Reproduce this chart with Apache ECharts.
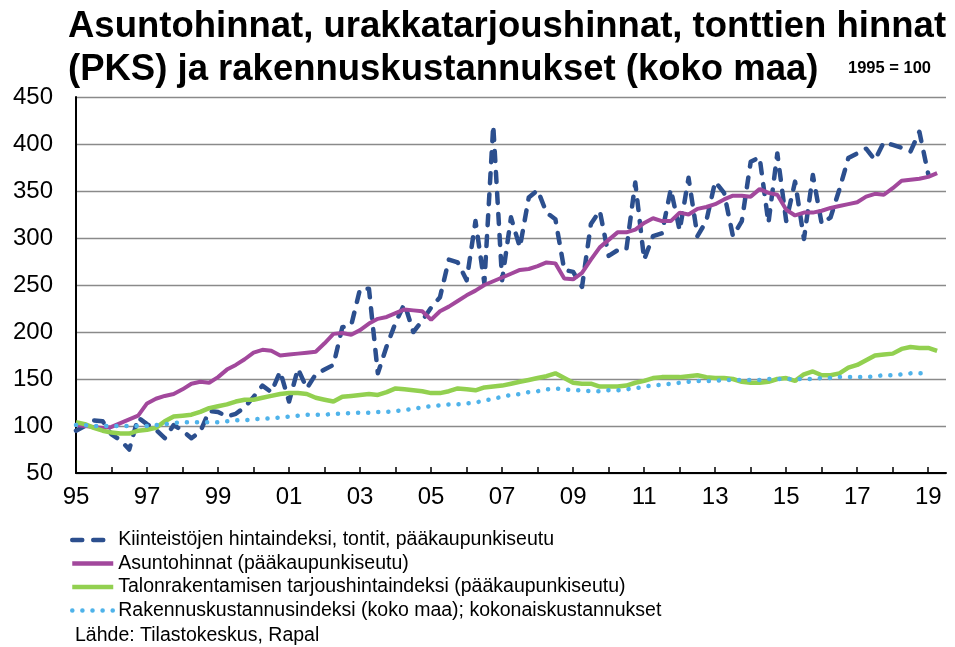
<!DOCTYPE html>
<html>
<head>
<meta charset="utf-8">
<script src="https://cdn.jsdelivr.net/npm/echarts@6/dist/echarts.min.js"></script>
<style>
  html, body { margin: 0; padding: 0; background: #fff; }
  #myChart { width: 955px; height: 647px; }
</style>
</head>
<body>
<div id="myChart"></div>
<script>
var FONT = '"Liberation Sans", Arial, sans-serif';

// x-axis: quarters 1995Q1 .. 2019Q3, labels every second year
var yearLabels = ['95', '97', '99', '01', '03', '05', '07', '09', '11', '13', '15', '17', '19'];
var quarters = [];
for (var y = 1995; y <= 2019; y++) {
    for (var q = 1; q <= 4; q++) quarters.push(y + 'Q' + q);
}
quarters = quarters.slice(0, 99);

var seriesNames = [
    'Kiinteistöjen hintaindeksi, tontit, pääkaupunkiseutu',
    'Asuntohinnat (pääkaupunkiseutu)',
    'Talonrakentamisen tarjoushintaindeksi (pääkaupunkiseutu)',
    'Rakennuskustannusindeksi (koko maa); kokonaiskustannukset'
];

// 1995 = 100, quarterly
var tontit = [
    95, 100, 106, 105, 91, 85, 75, 109, 102, 96,
    87, 101, 95, 87, 94, 116, 115, 110, 113, 120,
    131, 143, 136, 158, 126, 161, 140, 155, 160, 165,
    205, 207, 246, 246, 156, 185, 210, 230, 200, 212,
    226, 237, 277, 274, 255, 318, 252, 420, 255, 322,
    290, 343, 351, 327, 320, 266, 264, 248, 315, 329,
    281, 287, 288, 359, 277, 302, 305, 352, 308, 364,
    302, 318, 360, 348, 302, 318, 381, 386, 316, 390,
    318, 360, 299, 367, 315, 322, 352, 385, 390, 395,
    383, 402, 399, 396, 392, 413, 368
];
var asunnot = [
    101, 100, 99, 98, 99, 103, 107, 111, 124, 129,
    132, 134, 139, 145, 147, 146, 152, 160, 165, 171,
    178, 181, 180, 175, 176, 177, 178, 179, 188, 198,
    199, 197, 202, 209, 214, 216, 220, 224, 223, 222,
    213, 222, 227, 233, 239, 244, 250, 254, 258, 262,
    266, 267, 270, 274, 273, 257, 256, 263, 277, 290,
    298, 306, 306, 309, 316, 321, 318, 318, 327, 325,
    331, 333, 336, 341, 345, 345, 344, 352, 348, 346,
    330, 324, 327, 327, 329, 332, 334, 336, 338, 344,
    347, 346, 353, 361, 362, 363, 365, 369
];
var tarjous = [
    104, 102, 98, 95, 93, 92, 92, 95, 96, 98,
    105, 110, 111, 112, 115, 119, 121, 123, 126, 128,
    128, 130, 132, 134, 135, 135, 134, 130, 128, 126,
    131, 132, 133, 134, 133, 136, 140, 139, 138, 137,
    135, 135, 137, 140, 139, 138, 141, 142, 143, 145,
    147, 149, 151, 153, 156, 151, 146, 145, 145, 142,
    142, 142, 143, 146, 148, 151, 152, 152, 152, 153,
    154, 152, 151, 151, 150, 147, 146, 146, 147, 150,
    151, 148, 155, 158, 154, 154, 156, 162, 165, 170,
    175, 176, 177, 182, 184, 183, 183, 180
];
var rakennus = [
    101, 101, 100, 100, 100, 100, 100, 100, 100, 101,
    102, 103, 104, 104, 104, 104, 104, 105, 106, 106,
    107, 108, 108, 109, 110, 111, 112, 112, 112, 113,
    113, 114, 114, 114, 115, 115, 116, 117, 118, 120,
    121, 122, 123, 123, 124, 125, 127, 129, 131, 133,
    134, 136, 137, 139, 140, 139, 138, 138, 137, 137,
    138, 138, 139, 140, 142, 143, 144, 145, 146, 147,
    148, 148, 148, 149, 149, 149, 149, 149, 150, 150,
    150, 150, 150, 150, 151, 151, 152, 152, 152, 152,
    153, 154, 154, 155, 156, 156, 156
];

var option = {
    animation: false,
    textStyle: { fontFamily: FONT },
    title: [{
        text: 'Asuntohinnat, urakkatarjoushinnat, tonttien hinnat\n(PKS) ja rakennuskustannukset (koko maa)',
        left: 63,
        top: 0,
        textStyle: { fontFamily: FONT, fontSize: 36.5, fontWeight: 'bold', lineHeight: 43, color: '#000' }
    }, {
        text: '1995 = 100',
        left: 843,
        top: 55,
        textStyle: { fontFamily: FONT, fontSize: 16.5, fontWeight: 'bold', color: '#000' }
    }, {
        text: 'Lähde: Tilastokeskus, Rapal',
        left: 70,
        top: 621,
        textStyle: { fontFamily: FONT, fontSize: 19.5, fontWeight: 'normal', color: '#000' }
    }],
    legend: {
        orient: 'vertical',
        left: 65,
        top: 525,
        itemWidth: 41,
        itemHeight: 14,
        itemGap: 3.5,
        selectedMode: false,
        itemStyle: { opacity: 0 },
        lineStyle: { width: 4.5 },
        textStyle: { fontFamily: FONT, fontSize: 19.5, color: '#000' },
        data: seriesNames
    },
    grid: {
        left: 76,
        right: 9,
        top: 97,
        bottom: 174
    },
    xAxis: {
        type: 'category',
        boundaryGap: false,
        data: quarters,
        axisLine: { lineStyle: { color: '#000', width: 2 } },
        axisTick: {
            inside: true,
            length: 6,
            interval: function (idx) { return idx % 4 === 0; },
            lineStyle: { color: '#000', width: 1.5 }
        },
        axisLabel: {
            interval: function (idx) { return idx % 8 === 0; },
            formatter: function (val, idx) { return yearLabels[idx / 8]; },
            fontFamily: FONT,
            fontSize: 24,
            color: '#000',
            margin: 12
        },
        splitLine: { show: false }
    },
    yAxis: {
        type: 'value',
        min: 50,
        max: 450,
        interval: 50,
        axisLine: { show: true, lineStyle: { color: '#000', width: 2 } },
        axisTick: { show: false },
        axisLabel: { fontFamily: FONT, fontSize: 24, color: '#000', margin: 23 },
        splitLine: { lineStyle: { color: '#8a8a8a', width: 1.3 } }
    },
    series: [{
        name: seriesNames[0],
        type: 'line',
        data: tontit,
        symbol: 'none',
        lineStyle: { color: '#2c4f8e', width: 4.5, type: [10, 11], cap: 'round', join: 'round' },
        itemStyle: { color: '#2c4f8e' }
    }, {
        name: seriesNames[1],
        type: 'line',
        data: asunnot,
        symbol: 'none',
        lineStyle: { color: '#a2489c', width: 4 },
        itemStyle: { color: '#a2489c' }
    }, {
        name: seriesNames[2],
        type: 'line',
        data: tarjous,
        symbol: 'none',
        lineStyle: { color: '#92d050', width: 4.5 },
        itemStyle: { color: '#92d050' }
    }, {
        name: seriesNames[3],
        type: 'line',
        data: rakennus,
        symbol: 'none',
        lineStyle: { color: '#4fb3ea', width: 4.5, type: [0.1, 10], cap: 'round' },
        itemStyle: { color: '#4fb3ea' }
    }]
};

var myChart = echarts.init(document.getElementById('myChart'));
myChart.setOption(option);

window.onresize = function () {
    myChart.resize();
};
</script>
</body>
</html>
